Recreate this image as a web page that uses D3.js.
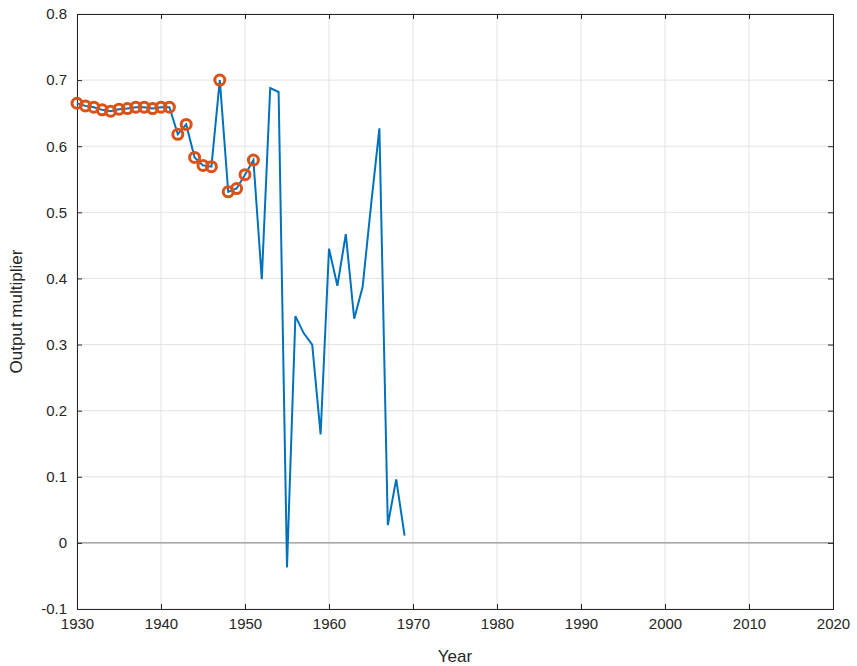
<!DOCTYPE html><html><head><meta charset="utf-8"><script src="https://cdn.jsdelivr.net/npm/d3@7"></script>
<style>body{margin:0;background:#fff}text{font-family:"Liberation Sans",Arial,sans-serif}</style></head><body><svg id="c" width="857" height="666"></svg><script>
const years=d3.range(1930,1970);
const values=[.665,.661,.659,.655,.653,.656,.657,.659,.659,.657,.659,.659,.618,.633,.583,.571,.569,.700,.531,.536,.557,.579,.399,.688,.682,-.037,.343,.317,.300,.164,.445,.389,.467,.339,.387,.51,.627,.027,.096,.011];
const markedYears=d3.range(1930,1952);
const xTicks=d3.range(1930,2021,10), yTicks=d3.range(-0.1,0.81,0.1).map(v=>+v.toFixed(1));
const L=77,R=833,T=14,B=609;
const svg=d3.select("#c");
const x=d3.scaleLinear().domain([1930,2020]).range([L,R]);
const y=d3.scaleLinear().domain([-0.1,0.8]).range([B,T]);
const g=svg.append("g");
g.selectAll(".vx").data(xTicks).join("line").attr("x1",d=>x(d)).attr("x2",d=>x(d)).attr("y1",T).attr("y2",B).attr("stroke","#e3e3e3");
g.selectAll(".hy").data(yTicks).join("line").attr("y1",d=>y(d)).attr("y2",d=>y(d)).attr("x1",L).attr("x2",R).attr("stroke","#e3e3e3");
svg.append("line").attr("x1",L).attr("x2",R).attr("y1",y(0)).attr("y2",y(0)).attr("stroke","#808080");
const fmt=d=>d===0?"0":(d<0?"-":"")+Math.abs(d).toFixed(1);
svg.append("g").attr("transform",`translate(0,${B})`).call(d3.axisBottom(x).tickValues(xTicks).tickFormat(d3.format("d")).tickSize(-5).tickPadding(9)).call(a=>{a.select(".domain").attr("stroke","#262626");a.selectAll("text").attr("font-size",15).attr("fill","#262626");a.selectAll(".tick line").attr("stroke","#262626")});
svg.append("g").attr("transform",`translate(${L},0)`).call(d3.axisLeft(y).tickValues(yTicks).tickFormat(fmt).tickSize(-5).tickPadding(10)).call(a=>{a.select(".domain").attr("stroke","#262626");a.selectAll("text").attr("font-size",15).attr("fill","#262626");a.selectAll(".tick line").attr("stroke","#262626")});
svg.append("g").attr("transform",`translate(0,${T})`).call(d3.axisTop(x).tickValues(xTicks).tickFormat("").tickSize(-5)).call(a=>a.selectAll("line,path").attr("stroke","#262626"));
svg.append("g").attr("transform",`translate(${R},0)`).call(d3.axisRight(y).tickValues(yTicks).tickFormat("").tickSize(-5)).call(a=>a.selectAll("line,path").attr("stroke","#262626"));
const data=years.map((yr,i)=>({yr,v:values[i]}));
svg.append("path").datum(data).attr("fill","none").attr("stroke","#0072BD").attr("stroke-width",2).attr("d",d3.line().x(d=>x(d.yr)).y(d=>y(d.v)));
svg.selectAll(".m").data(data.filter(d=>markedYears.includes(d.yr))).join("circle").attr("cx",d=>x(d.yr)).attr("cy",d=>y(d.v)).attr("r",5).attr("fill","none").attr("stroke","#D95319").attr("stroke-width",3);
svg.append("text").attr("x",(L+R)/2).attr("y",662).attr("text-anchor","middle").attr("font-size",17).attr("fill","#262626").text("Year");
svg.append("text").attr("transform",`translate(22,${(T+B)/2}) rotate(-90)`).attr("text-anchor","middle").attr("font-size",17).attr("fill","#262626").text("Output multiplier");
</script></body></html>
